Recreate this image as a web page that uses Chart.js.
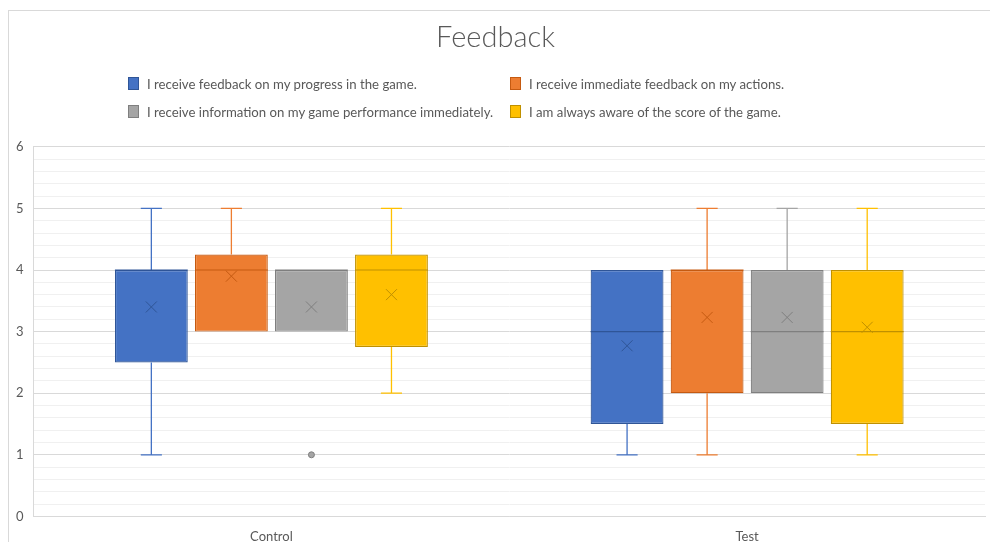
<!DOCTYPE html>
<html>
<head>
<meta charset="utf-8">
<script src="https://cdn.jsdelivr.net/npm/chart.js@4.4.1/dist/chart.umd.min.js"></script>
<style>
  html, body { margin: 0; padding: 0; background: #fff; }
  #wrap { position: relative; width: 990px; height: 542px; overflow: hidden; font-family: Lato, "Open Sans", sans-serif; }
  #frame { position: absolute; left: 8px; top: 10px; width: 1000px; height: 600px; border: 1px solid #d9d9d9; box-sizing: border-box; }
  #chart { position: absolute; left: 0; top: 0; }
  #legend { position: absolute; left: 0; top: 0; width: 990px; }
  .item { position: absolute; font-size: 13.2px; color: #595959; white-space: nowrap; line-height: 16px; }
  .item span.box { position: absolute; left: 0; top: 1px; width: 11px; height: 13px; box-sizing: border-box; border: 1px solid; }
  .item span.txt { position: absolute; left: 19px; top: 0; }
</style>
</head>
<body>
<div id="wrap">
  <div id="frame"></div>
  <canvas id="chart" width="990" height="558"></canvas>
  <div id="legend"></div>
</div>
<script>
// data, [series][category]
var categories = ["Control", "Test"];
var seriesNames = [
  "I receive feedback on my progress in the game.",
  "I receive immediate feedback on my actions.",
  "I receive information on my game performance immediately.",
  "I am always aware of the score of the game."
];
var minValues    = [[1, 1], [3, 1], [3, 2], [2, 1]];
var q1Values     = [[2.5, 1.5], [3, 2], [3, 2], [2.75, 1.5]];
var medianValues = [[4, 3], [4, 4], [4, 3], [4, 3]];
var q3Values     = [[4, 4], [4.25, 4], [4, 4], [4.25, 4]];
var maxValues    = [[5, 4], [5, 5], [4, 5], [5, 5]];
var meanValues   = [[3.4, 2.77], [3.9, 3.23], [3.4, 3.23], [3.6, 3.07]];
var outliers     = [[[], []], [[], []], [[1], []], [[], []]];

var fillColors   = ["#4472C4", "#ED7D31", "#A5A5A5", "#FFC000"];
var borderColors = ["#2F5597", "#C55A11", "#7F7F7F", "#BF9000"];

var isWhole = function (v) { return Math.abs(v - Math.round(v)) < 1e-6; };

var datasets = seriesNames.map(function (name, s) {
  return {
    label: name,
    data: categories.map(function (c, i) { return [q1Values[s][i], q3Values[s][i]]; }),
    backgroundColor: fillColors[s],
    borderColor: borderColors[s],
    borderWidth: 1.2,
    borderSkipped: false,
    categoryPercentage: 0.673,
    barPercentage: 0.91
  };
});

// whiskers behind the boxes, then median, mean and outliers on top
var boxPlot = {
  id: "boxPlot",
  beforeDatasetsDraw: function (chart) {
    var ctx = chart.ctx, y = chart.scales.y;
    chart.data.datasets.forEach(function (ds, s) {
      chart.getDatasetMeta(s).data.forEach(function (bar, i) {
        var cap = bar.width * 0.29;
        ctx.save();
        ctx.strokeStyle = fillColors[s];
        ctx.lineWidth = 1.3;
        ctx.beginPath();
        [[minValues[s][i], q1Values[s][i]], [maxValues[s][i], q3Values[s][i]]].forEach(function (p) {
          if (p[0] === p[1]) return;
          var yEnd = y.getPixelForValue(p[0]), yBox = y.getPixelForValue(p[1]);
          ctx.moveTo(bar.x, yBox);
          ctx.lineTo(bar.x, yEnd);
          ctx.moveTo(bar.x - cap / 2, yEnd);
          ctx.lineTo(bar.x + cap / 2, yEnd);
        });
        ctx.stroke();
        ctx.restore();
      });
    });
  },
  afterDatasetsDraw: function (chart) {
    var ctx = chart.ctx, y = chart.scales.y;
    chart.data.datasets.forEach(function (ds, s) {
      chart.getDatasetMeta(s).data.forEach(function (bar, i) {
        ctx.save();
        ctx.strokeStyle = borderColors[s];
        ctx.lineWidth = 1.2;
        var ym = y.getPixelForValue(medianValues[s][i]);
        ctx.beginPath();
        ctx.moveTo(bar.x - bar.width / 2, ym);
        ctx.lineTo(bar.x + bar.width / 2, ym);
        ctx.stroke();
        var yMean = y.getPixelForValue(meanValues[s][i]), r = 5.5;
        ctx.lineWidth = 1;
        ctx.beginPath();
        ctx.moveTo(bar.x - r, yMean - r);
        ctx.lineTo(bar.x + r, yMean + r);
        ctx.moveTo(bar.x + r, yMean - r);
        ctx.lineTo(bar.x - r, yMean + r);
        ctx.stroke();
        outliers[s][i].forEach(function (v) {
          ctx.beginPath();
          ctx.arc(bar.x, y.getPixelForValue(v), 3, 0, Math.PI * 2);
          ctx.fillStyle = fillColors[s];
          ctx.fill();
          ctx.strokeStyle = borderColors[s];
          ctx.stroke();
        });
        ctx.restore();
      });
    });
  }
};

new Chart(document.getElementById("chart").getContext("2d"), {
  type: "bar",
  data: { labels: categories, datasets: datasets },
  options: {
    responsive: false,
    animation: false,
    layout: { padding: { left: 6, right: 5, top: 0, bottom: 0 } },
    plugins: {
      legend: { display: false },
      tooltip: { enabled: false },
      title: {
        display: true,
        text: "Feedback",
        color: "#595959",
        font: { family: "Lato", size: 29, weight: "300" },
        padding: { top: 20, bottom: 92 }
      }
    },
    scales: {
      x: {
        grid: { display: false, drawTicks: false },
        border: { display: true, color: "#d9d9d9" },
        ticks: { color: "#595959", font: { family: "Lato", size: 13 }, padding: 13 }
      },
      y: {
        min: 0,
        max: 6,
        border: { display: true, color: "#d9d9d9" },
        grid: {
          drawTicks: false,
          color: function (c) { return isWhole(c.tick.value) ? "#d9d9d9" : "#f0f0f0"; }
        },
        ticks: {
          stepSize: 0.2,
          autoSkip: false,
          padding: 10,
          color: "#595959",
          font: { family: "Lato", size: 13 },
          callback: function (v) { return isWhole(v) ? Math.round(v) : ""; }
        }
      }
    }
  },
  plugins: [boxPlot]
});

// legend in two columns like the original
var legend = document.getElementById("legend");
var legendX = [128, 510], legendY = [76, 104];
seriesNames.forEach(function (name, s) {
  var item = document.createElement("div");
  item.className = "item";
  item.style.left = legendX[s % 2] + "px";
  item.style.top = legendY[Math.floor(s / 2)] + "px";
  item.innerHTML = '<span class="box" style="background:' + fillColors[s] + ';border-color:' + borderColors[s] + '"></span><span class="txt"></span>';
  item.querySelector(".txt").textContent = name;
  legend.appendChild(item);
});
</script>
</body>
</html>
